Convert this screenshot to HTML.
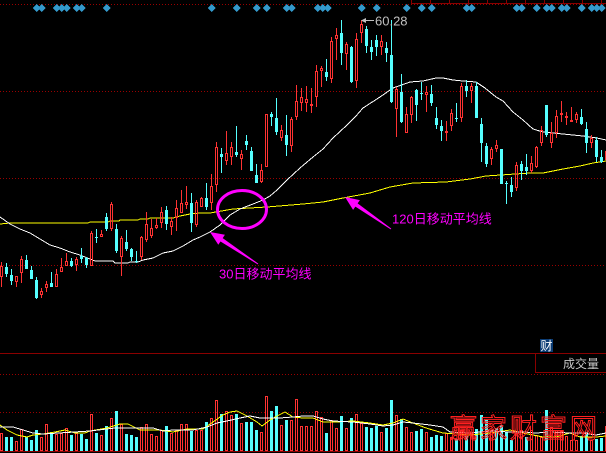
<!DOCTYPE html>
<html><head><meta charset="utf-8"><style>
html,body{margin:0;padding:0;background:#000;}
svg{display:block;}
text{font-family:"Liberation Sans","Noto Sans CJK SC",sans-serif;}
</style></head><body>
<svg width="606" height="453" viewBox="0 0 606 453" xmlns="http://www.w3.org/2000/svg" shape-rendering="crispEdges">
<rect width="606" height="453" fill="#000"/>
<!-- grid -->
<g stroke="#9a0000" stroke-width="1" stroke-dasharray="1 2" fill="none">
<line x1="0" y1="4.5" x2="606" y2="4.5"/>
<line x1="0" y1="91.5" x2="606" y2="91.5"/>
<line x1="0" y1="178.5" x2="606" y2="178.5"/>
<line x1="0" y1="265.5" x2="606" y2="265.5"/>
<line x1="0" y1="374.5" x2="606" y2="374.5"/>
<line x1="0" y1="412.5" x2="606" y2="412.5"/>
</g>
<g stroke="#8a0000" stroke-width="1" fill="none">
<line x1="0" y1="353.5" x2="606" y2="353.5"/>
<line x1="0" y1="451.5" x2="606" y2="451.5"/>
<path d="M535.5 353V372.5H606"/>
<path d="M411 3.5H606M411.5 0V3M430.5 0V3M449.5 0V3M468.5 0V3M487.5 0V3M506.5 0V3M525.5 0V3M544.5 0V3M563.5 0V3M582.5 0V3M601.5 0V3"/>
</g>
<!-- diamonds -->
<g fill="#3399cc">
<path d="M32.5 8l4-4 4 4-4 4zM37.5 8l4-4 4 4-4 4zM52.5 8l4-4 4 4-4 4zM57.5 8l4-4 4 4-4 4zM62.5 8l4-4 4 4-4 4zM72.5 8l4-4 4 4-4 4zM77.5 8l4-4 4 4-4 4zM102.5 8l4-4 4 4-4 4zM207.5 8l4-4 4 4-4 4zM232.5 8l4-4 4 4-4 4zM252.5 8l4-4 4 4-4 4zM262.5 8l4-4 4 4-4 4zM282.5 8l4-4 4 4-4 4zM287.5 8l4-4 4 4-4 4zM313.5 8l4-4 4 4-4 4zM318.5 8l4-4 4 4-4 4zM323.5 8l4-4 4 4-4 4zM357.5 8l4-4 4 4-4 4zM372.5 8l4-4 4 4-4 4zM402.5 8l4-4 4 4-4 4zM417.5 8l4-4 4 4-4 4zM427.5 8l4-4 4 4-4 4zM462.5 8l4-4 4 4-4 4zM467.5 8l4-4 4 4-4 4zM512.5 8l4-4 4 4-4 4zM517.5 8l4-4 4 4-4 4zM532.5 8l4-4 4 4-4 4zM542.5 8l4-4 4 4-4 4zM547.5 8l4-4 4 4-4 4zM557.5 8l4-4 4 4-4 4zM562.5 8l4-4 4 4-4 4zM577.5 8l4-4 4 4-4 4zM587.5 8l4-4 4 4-4 4zM592.5 8l4-4 4 4-4 4zM597.5 8l4-4 4 4-4 4z"/>
</g>
<!-- moving averages price -->
<polyline fill="none" stroke="#ffff00" stroke-width="1" points="0,224 10,223 88,223 90,222 108,222 110,221 119,221 120,220 138,220 140,219 148,219 150,218 173,218 180,216 190,214 200,213 210,213 233,209 267,207 303,204 323,202 343,198 370,193 390,187 413,183 446,182 470,179 486,176 530,173 543,173 563,169 580,166 593,163 606,161"/>
<polyline fill="none" stroke="#ffffff" stroke-width="1" points="0,217 10,224 20,229 30,233 40,239 50,245 60,248 70,252 80,255 90,259 95,261 113,261 115,263 128,263 130,262 138,262 143,260 153,258 163,253 173,251 183,246 193,240 200,237 210,232 220,225 230,215 240,209 253,204 263,200 270,196 277,190 287,180 300,168 313,157 323,149 333,138 347,125 356,116 363,108 380,97 393,88 410,82 423,81 436,78 443,78 453,80 463,81 476,82 485,88 496,97 503,101 513,112 523,120 533,129 543,132 563,134 583,136 597,138 606,140"/>
<!-- cyan candles -->
<g stroke="#55ffff" stroke-width="1" fill="none">
<path d="M6.5 263V277M11.5 269V285M26.5 255V269M31.5 266V279M36.5 277V299M51.5 272V287M71.5 258V267M81.5 248V263M86.5 257V268M96.5 229V243M106.5 213V231M116.5 224V253M126.5 230V251M131.5 248V261M136.5 251V263M166.5 206V230M191.5 193V232M206.5 183V210M221.5 148V173M236.5 126V157M246.5 135V150M251.5 147V171M256.5 164V183M271.5 112V126M276.5 98V135M286.5 115V156M326.5 59V81M341.5 20V65M351.5 46V83M366.5 26V53M371.5 40V60M376.5 35V56M386.5 42V62M391.5 20V103M401.5 74V123M416.5 89V121M421.5 82V100M431.5 85V106M436.5 107V129M441.5 120V141M456.5 103V122M466.5 80V97M476.5 82V118M481.5 118V162M486.5 143V167M501.5 149V184M506.5 181V204M511.5 177V197M521.5 161V180M526.5 154V175M546.5 105V137M581.5 109V125M586.5 122V153M596.5 137V162M601.5 150V163"/>
</g>
<g fill="#55ffff">
<path d="M5 267h3v7h-3zM10 275h3v6h-3zM25 260h3v9h-3zM30 270h3v9h-3zM35 280h3v18h-3zM50 283h3v4h-3zM70 261h3v5h-3zM80 256h3v3h-3zM85 258h3v7h-3zM95 237h3v1h-3zM105 217h3v12h-3zM115 229h3v22h-3zM125 242h3v7h-3zM130 249h3v8h-3zM135 261h3v1h-3zM165 210h3v14h-3zM190 203h3v20h-3zM205 198h3v9h-3zM220 154h3v3h-3zM235 152h3v3h-3zM245 141h3v4h-3zM250 151h3v20h-3zM255 175h3v8h-3zM270 114h3v3h-3zM275 118h3v14h-3zM285 135h3v10h-3zM325 72h3v5h-3zM340 33h3v20h-3zM350 47h3v35h-3zM365 29h3v17h-3zM370 47h3v5h-3zM375 40h3v7h-3zM385 48h3v5h-3zM390 55h3v47h-3zM400 92h3v30h-3zM415 90h3v15h-3zM420 93h3v1h-3zM430 94h3v9h-3zM435 118h3v7h-3zM440 126h3v5h-3zM455 118h3v1h-3zM465 86h3v5h-3zM475 86h3v32h-3zM480 124h3v19h-3zM485 146h3v18h-3zM500 149h3v35h-3zM505 183h3v1h-3zM510 185h3v7h-3zM520 164h3v7h-3zM525 167h3v4h-3zM545 105h3v30h-3zM580 117h3v7h-3zM585 129h3v14h-3zM595 140h3v17h-3zM600 157h3v5h-3z"/>
</g>
<!-- red candles -->
<g stroke="#ff3232" stroke-width="1" fill="none">
<path d="M1.5 262V266M1.5 277V287M16.5 282V287M21.5 256V259M21.5 273V283M41.5 288V291M41.5 295V298M46.5 281V284M46.5 288V292M56.5 269V274M61.5 258V267M66.5 253V261M76.5 257V259M76.5 265V271M91.5 231V233M101.5 230V234M111.5 202V204M111.5 229V231M121.5 236V238M121.5 257V276M141.5 236V237M141.5 257V260M146.5 212V224M146.5 240V242M151.5 219V228M151.5 236V238M156.5 218V225M156.5 228V229M161.5 207V212M161.5 223V228M171.5 217V221M171.5 227V235M176.5 200V208M176.5 218V231M181.5 190V203M186.5 186V202M186.5 205V209M196.5 200V202M196.5 225V227M201.5 197V198M211.5 174V186M211.5 203V210M216.5 142V147M216.5 185V192M226.5 131V153M226.5 161V165M231.5 142V147M231.5 157V165M241.5 150V154M241.5 159V170M261.5 164V170M261.5 182V183M281.5 125V130M281.5 138V141M291.5 117V119M291.5 146V152M296.5 85V101M296.5 117V120M301.5 88V97M301.5 103V111M306.5 86V99M306.5 103V112M311.5 88V104M311.5 106V113M316.5 65V71M316.5 97V107M321.5 66V68M321.5 71V87M331.5 37V41M331.5 79V83M336.5 28V35M336.5 39V60M346.5 42V44M346.5 54V70M356.5 33V39M356.5 81V88M361.5 20V24M361.5 33V43M381.5 35V41M381.5 47V55M396.5 87V89M396.5 109V137M406.5 107V114M411.5 96V97M411.5 115V123M426.5 86V92M426.5 95V112M446.5 121V131M446.5 133V141M451.5 109V113M451.5 126V131M461.5 83V86M461.5 118V122M471.5 83V86M471.5 91V103M491.5 147V149M491.5 159V165M496.5 140V145M496.5 149V152M516.5 162V165M516.5 188V191M531.5 156V163M531.5 171V173M536.5 146V147M536.5 167V168M541.5 126V130M541.5 143V146M551.5 122V133M551.5 143V148M556.5 110V116M556.5 133V138M561.5 101V113M561.5 114V122M566.5 112V116M566.5 117V125M571.5 107V120M576.5 112V114M576.5 120V123M591.5 135V138M591.5 143V148"/>
<path d="M0.5 266.5h2v10h-2zM15.5 276.5h2v5h-2zM20.5 259.5h2v13h-2zM40.5 291.5h2v3h-2zM45.5 284.5h2v3h-2zM55.5 274.5h2v12h-2zM60.5 267.5h2v4h-2zM65.5 261.5h2v4h-2zM75.5 259.5h2v5h-2zM90.5 233.5h2v32h-2zM100.5 234.5h2v2h-2zM110.5 204.5h2v24h-2zM120.5 238.5h2v18h-2zM140.5 237.5h2v19h-2zM145.5 224.5h2v15h-2zM150.5 228.5h2v7h-2zM155.5 225.5h2v2h-2zM160.5 212.5h2v10h-2zM170.5 221.5h2v5h-2zM175.5 208.5h2v9h-2zM180.5 203.5h2v9h-2zM185.5 202.5h2v2h-2zM195.5 202.5h2v22h-2zM200.5 198.5h2v8h-2zM210.5 186.5h2v16h-2zM215.5 147.5h2v37h-2zM225.5 153.5h2v7h-2zM230.5 147.5h2v9h-2zM240.5 154.5h2v4h-2zM260.5 170.5h2v11h-2zM265.5 114.5h2v52h-2zM280.5 130.5h2v7h-2zM290.5 119.5h2v26h-2zM295.5 101.5h2v15h-2zM300.5 97.5h2v5h-2zM305.5 99.5h2v3h-2zM310.5 104.5h2v1h-2zM315.5 71.5h2v25h-2zM320.5 68.5h2v2h-2zM330.5 41.5h2v37h-2zM335.5 35.5h2v3h-2zM345.5 44.5h2v9h-2zM355.5 39.5h2v41h-2zM360.5 24.5h2v8h-2zM380.5 41.5h2v5h-2zM395.5 89.5h2v19h-2zM405.5 114.5h2v18h-2zM410.5 97.5h2v17h-2zM425.5 92.5h2v2h-2zM445.5 131.5h2v1h-2zM450.5 113.5h2v12h-2zM460.5 86.5h2v31h-2zM470.5 86.5h2v4h-2zM490.5 149.5h2v9h-2zM495.5 145.5h2v3h-2zM515.5 165.5h2v22h-2zM530.5 163.5h2v7h-2zM535.5 147.5h2v19h-2zM540.5 130.5h2v12h-2zM550.5 133.5h2v9h-2zM555.5 116.5h2v16h-2zM560.5 113.5h2v1h-2zM565.5 116.5h2v1h-2zM570.5 120.5h2v1h-2zM575.5 114.5h2v5h-2zM590.5 138.5h2v4h-2zM605.5 151.5h2v8h-2z"/>
</g>
<!-- max label -->
<g stroke="#c0c0c0" fill="none"><line x1="364" y1="20.5" x2="374" y2="20.5"/></g>
<path d="M361 20.5L366 18V23z" fill="#c0c0c0"/>
<text x="375" y="25.5" font-size="13" fill="#c0c0c0">60.28</text>
<!-- annotations -->
<g shape-rendering="auto">
<ellipse cx="242" cy="209.5" rx="24.5" ry="19" fill="none" stroke="#ff00ff" stroke-width="3"/>
<polygon fill="#ff00ff" points="210,232 224.9,234.8 222.7,238.1 258.3,263.6 257.7,264.4 220.5,241.5 218.3,244.8"/>
<polygon fill="#ff00ff" points="345,197 359.9,200.1 357.6,203.4 391.3,228.6 390.7,229.4 355.4,206.6 353.1,209.9"/>
</g>
<text x="219" y="278.5" font-size="13" fill="#ff00ff">30日移动平均线</text>
<text x="392" y="223.5" font-size="13" fill="#ff00ff">120日移动平均线</text>
<!-- volume bars -->
<g fill="#55ffff">
<path d="M5 437h3V451h-3zM10 437h3V451h-3zM25 437h3V451h-3zM30 440h3V451h-3zM35 430h3V451h-3zM50 432h3V451h-3zM70 435h3V451h-3zM80 434h3V451h-3zM85 439h3V451h-3zM95 433h3V451h-3zM105 426h3V451h-3zM115 411h3V451h-3zM125 434h3V451h-3zM130 435h3V451h-3zM135 437h3V451h-3zM165 426h3V451h-3zM190 431h3V451h-3zM205 422h3V451h-3zM220 414h3V451h-3zM235 414h3V451h-3zM245 422h3V451h-3zM250 422h3V451h-3zM255 430h3V451h-3zM270 411h3V451h-3zM275 406h3V451h-3zM285 420h3V451h-3zM325 433h3V451h-3zM340 416h3V451h-3zM350 418h3V451h-3zM365 427h3V451h-3zM370 428h3V451h-3zM375 426h3V451h-3zM385 428h3V451h-3zM390 400h3V451h-3zM400 419h3V451h-3zM415 431h3V451h-3zM420 429h3V451h-3zM430 437h3V451h-3zM435 435h3V451h-3zM440 436h3V451h-3zM455 439h3V451h-3zM465 436h3V451h-3zM475 429h3V451h-3zM480 415h3V451h-3zM485 420h3V451h-3zM495 428h3V451h-3zM500 425h3V451h-3zM505 432h3V451h-3zM510 440h3V451h-3zM525 437h3V451h-3zM545 410h3V451h-3zM580 436h3V451h-3zM585 432h3V451h-3zM595 439h3V451h-3zM600 438h3V451h-3z"/>
</g>
<g fill="none" stroke="#ff3232" stroke-width="1">
<path d="M0.5 433.5h2V450.5h-2zM15.5 441.5h2V450.5h-2zM20.5 429.5h2V450.5h-2zM40.5 437.5h2V450.5h-2zM45.5 424.5h2V450.5h-2zM55.5 434.5h2V450.5h-2zM60.5 433.5h2V450.5h-2zM65.5 428.5h2V450.5h-2zM75.5 433.5h2V450.5h-2zM90.5 414.5h2V450.5h-2zM100.5 435.5h2V450.5h-2zM110.5 418.5h2V450.5h-2zM120.5 424.5h2V450.5h-2zM140.5 427.5h2V450.5h-2zM145.5 424.5h2V450.5h-2zM150.5 434.5h2V450.5h-2zM155.5 436.5h2V450.5h-2zM160.5 430.5h2V450.5h-2zM170.5 433.5h2V450.5h-2zM175.5 430.5h2V450.5h-2zM180.5 424.5h2V450.5h-2zM185.5 424.5h2V450.5h-2zM195.5 430.5h2V450.5h-2zM200.5 430.5h2V450.5h-2zM210.5 418.5h2V450.5h-2zM215.5 400.5h2V450.5h-2zM225.5 411.5h2V450.5h-2zM230.5 415.5h2V450.5h-2zM240.5 423.5h2V450.5h-2zM260.5 432.5h2V450.5h-2zM265.5 396.5h2V450.5h-2zM280.5 425.5h2V450.5h-2zM290.5 420.5h2V450.5h-2zM295.5 399.5h2V450.5h-2zM300.5 426.5h2V450.5h-2zM305.5 426.5h2V450.5h-2zM310.5 426.5h2V450.5h-2zM315.5 411.5h2V450.5h-2zM320.5 417.5h2V450.5h-2zM330.5 420.5h2V450.5h-2zM335.5 428.5h2V450.5h-2zM345.5 428.5h2V450.5h-2zM355.5 414.5h2V450.5h-2zM360.5 423.5h2V450.5h-2zM380.5 432.5h2V450.5h-2zM395.5 415.5h2V450.5h-2zM405.5 427.5h2V450.5h-2zM410.5 432.5h2V450.5h-2zM425.5 432.5h2V450.5h-2zM445.5 433.5h2V450.5h-2zM450.5 437.5h2V450.5h-2zM460.5 430.5h2V450.5h-2zM470.5 433.5h2V450.5h-2zM490.5 430.5h2V450.5h-2zM515.5 433.5h2V450.5h-2zM520.5 430.5h2V450.5h-2zM530.5 430.5h2V450.5h-2zM535.5 435.5h2V450.5h-2zM540.5 437.5h2V450.5h-2zM550.5 427.5h2V450.5h-2zM555.5 430.5h2V450.5h-2zM560.5 431.5h2V450.5h-2zM565.5 436.5h2V450.5h-2zM570.5 440.5h2V450.5h-2zM575.5 440.5h2V450.5h-2zM590.5 440.5h2V450.5h-2zM605.5 426.5h2V450.5h-2z"/>
</g>
<!-- volume MAs -->
<polyline fill="none" stroke="#ffff00" stroke-width="1" points="0,425 7,430 17,435 27,437 33,435 43,434 55,432 65,430 75,433 85,433 90,431 107,428 120,424 128,424 140,430 160,430 173,432 187,429 203,429 213,422 223,415 230,412 237,411 247,416 257,422 262,426 270,420 277,416 285,412 293,417 303,418 313,418 323,422 336,422 353,421 370,423 383,425 393,423 403,419 413,423 426,428 443,433 470,435 490,433 510,430 523,433 543,437 556,437 570,433 580,437 596,437 606,436"/>
<polyline fill="none" stroke="#ffffff" stroke-width="1" points="0,427 13,427 23,430 33,433 43,434 90,431 115,428 140,428 153,428 163,431 173,430 193,430 207,427 217,423 227,421 240,418 250,416 260,418 280,418 293,417 303,416 313,416 323,419 333,421 353,422 370,424 383,426 393,425 403,422 413,423 430,425 443,427 450,432 470,433 490,431 510,432 523,432 536,433 550,432 570,433 583,433 596,435 606,433"/>
<!-- labels -->
<rect x="540" y="339" width="13" height="13" fill="#0b3c74"/>
<text x="540.5" y="350" font-size="12" fill="#ffffff">财</text>
<text x="563" y="368" font-size="12" fill="#c8c8c8">成交量</text>
<!-- watermark -->
<text x="450" y="438" font-size="27" letter-spacing="3" fill="none" stroke="#ff2020" stroke-width="1" shape-rendering="auto" font-family="'Noto Serif CJK SC','Noto Sans CJK SC',serif">赢家财富网</text>
</svg>
</body></html>
